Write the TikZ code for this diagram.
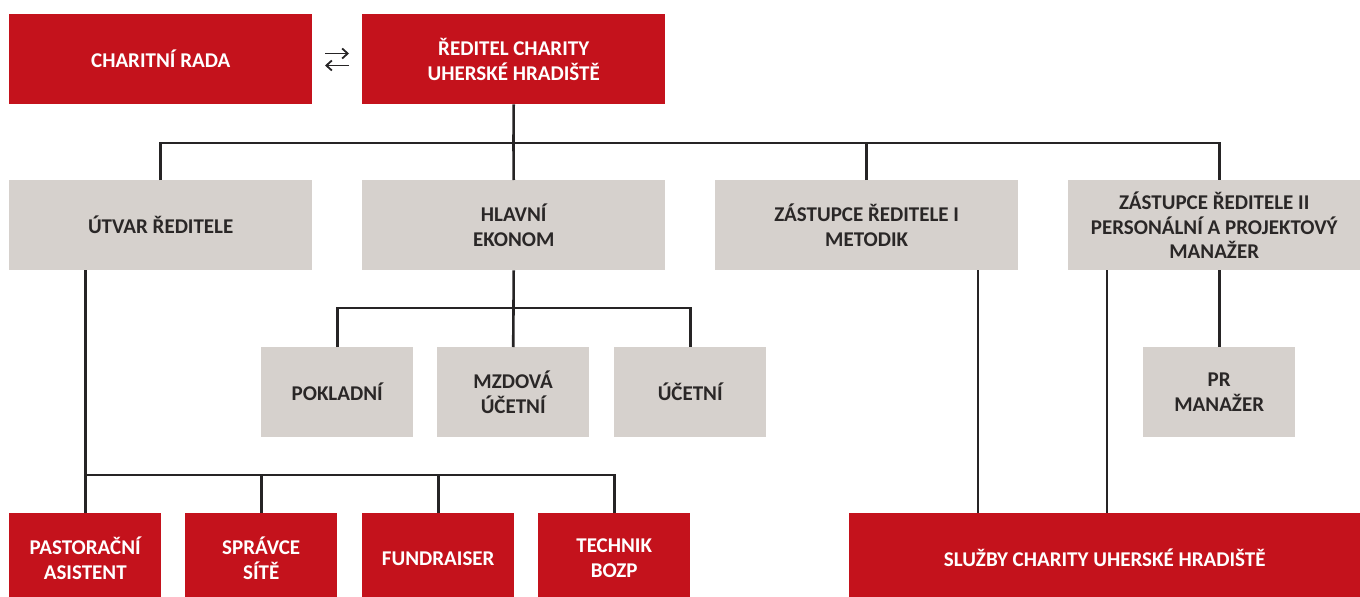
\documentclass[tikz,border=0pt]{standalone}
\usepackage{fontspec}
\setmainfont{Carlito}
\usetikzlibrary{arrows.meta}
\definecolor{chred}{HTML}{C4121C}
\definecolor{chgray}{HTML}{D6D1CD}
\definecolor{chline}{HTML}{262425}
\definecolor{chtext}{HTML}{2A2727}
\begin{document}
\begin{tikzpicture}[x=1pt,y=-1pt,
  box/.style={anchor=north west, inner sep=0pt, align=center,
    font=\fontsize{21}{24.5}\selectfont\bfseries},
  redbox/.style={box, fill=chred, text=white},
  graybox/.style={box, fill=chgray, text=chtext},
  big/.style={minimum width=303, minimum height=90},
  small/.style={minimum width=152, minimum height=90},
  conn/.style={draw=chline, line width=2.6pt},
  swap/.style={draw=chline, line width=1.8pt, -{Straight Barb[length=5.5pt,width=10pt]}}]
\useasboundingbox (0,0) rectangle (1360,597);
% row 1
\node[redbox, big] (rada) at (9,14) {CHARITNÍ RADA};
\node[redbox, big] (dir) at (362,14) {ŘEDITEL CHARITY\\UHERSKÉ HRADIŠTĚ};
% row 2
\node[graybox, big] (utvar) at (9,180) {ÚTVAR ŘEDITELE};
\node[graybox, big] (ekon) at (362,180) {HLAVNÍ\\EKONOM};
\node[graybox, big] (z1) at (715,180) {ZÁSTUPCE ŘEDITELE I\\METODIK};
\node[graybox, minimum width=292, minimum height=90] (z2) at (1068,180) {ZÁSTUPCE ŘEDITELE II\\PERSONÁLNÍ A PROJEKTOVÝ\\MANAŽER};
% row 3
\node[graybox, small] (pokl) at (261,347) {POKLADNÍ};
\node[graybox, small] (mzd) at (437,347) {MZDOVÁ\\ÚČETNÍ};
\node[graybox, small] (ucet) at (614,347) {ÚČETNÍ};
\node[graybox, small] (pr) at (1143,347) {PR\\MANAŽER};
% row 4
\node[redbox, small] (past) at (9,513) {PASTORAČNÍ\\ASISTENT};
\node[redbox, small] (sprav) at (185,513) {SPRÁVCE\\SÍTĚ};
\node[redbox, small] (fund) at (362,513) {FUNDRAISER};
\node[redbox, small] (tech) at (538,513) {TECHNIK\\BOZP};
\node[redbox, minimum width=511, minimum height=90] (sluz) at (849,513) {SLUŽBY CHARITY UHERSKÉ HRADIŠTĚ};
% swap arrows
\coordinate (sw1) at (325,53.5);
\coordinate (sw2) at (349,53.5);
\coordinate (sw3) at (325,65.5);
\coordinate (sw4) at (349,65.5);
\draw[swap] (sw1) -- (sw2);
\draw[swap] (sw4) -- (sw3);
% connectors
\coordinate (bus1) at (513.5,143);
\draw[conn] (dir.south) -- (bus1);
\draw[conn] (utvar.north) |- (bus1) -| (pr.north |- z2.north);
\draw[conn] (ekon.north) -- (bus1);
\draw[conn] (z1.north) |- (bus1);
\coordinate (bus2) at (513.5,308);
\draw[conn] (ekon.south) -- (bus2);
\draw[conn] (pokl.north) |- (bus2) -| (ucet.north);
\draw[conn] (mzd.north) -- (bus2);
\coordinate (bus3) at (85,475);
\draw[conn] (utvar.south -| past.north) -- (past.north);
\draw[conn] (bus3) -| (tech.north);
\draw[conn] (sprav.north) -- (sprav.north |- bus3);
\draw[conn] (fund.north) -- (fund.north |- bus3);
\coordinate (s1) at (978,513);
\coordinate (s2) at (1107,513);
\draw[conn] (z1.south -| s1) -- (s1);
\draw[conn] (z2.south -| s2) -- (s2);
\draw[conn] (z2.south -| pr.north) -- (pr.north);
\end{tikzpicture}
\end{document}
